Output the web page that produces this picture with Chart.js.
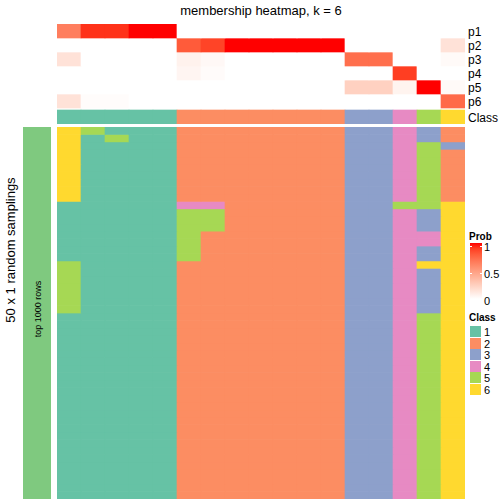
<!DOCTYPE html>
<html>
<head>
<meta charset="utf-8">
<script src="https://cdn.jsdelivr.net/npm/chart.js@4.4.1/dist/chart.umd.min.js"></script>
<style>
body { margin: 0; background: #fff; }
#page { position: relative; width: 504px; height: 504px; overflow: hidden; font-family: "Liberation Sans", Arial, sans-serif; color: #000; }
.abs { position: absolute; }
#title { left: 57px; top: 4px; width: 408px; text-align: center; font-size: 13px; line-height: 13px; }
.rowLabel { left: 468px; font-size: 12px; line-height: 14px; height: 14px; }
#sideTitle { left: 10px; top: 250px; font-size: 13px; white-space: nowrap; transform: translate(-50%, -50%) rotate(-90deg); }
#annoBar { left: 23px; top: 127px; width: 28px; height: 372px; background: #7fc97f; }
#annoText { left: 38px; top: 309px; font-size: 9px; white-space: nowrap; transform: translate(-50%, -50%) rotate(-90deg); }
.legTitle { left: 469px; font-size: 10px; font-weight: bold; line-height: 12px; }
.legLabel { left: 484px; font-size: 11px; line-height: 12px; }
#probBar { left: 470px; top: 243px; width: 12px; height: 56px; }
.tick { background: #fff; height: 1px; width: 2px; }
.swatch { left: 470px; width: 11px; height: 11px; }
</style>
</head>
<body>
<div id="page">
  <div class="abs" id="title">membership heatmap, k = 6</div>
  <canvas id="probChart" class="abs" width="408" height="100" style="left:57px;top:24px"></canvas>
  <canvas id="samplingChart" class="abs" width="408" height="372" style="left:57px;top:127px"></canvas>
  <div class="abs" id="sideTitle">50 x 1 random samplings</div>
  <div class="abs" id="annoBar"></div>
  <div class="abs" id="annoText">top 1000 rows</div>
  <div class="abs legTitle" style="top:231px">Prob</div>
  <div class="abs" id="probBar"></div>
  <div class="abs legTitle" style="top:312px">Class</div>
  <div id="labels"></div>
</div>
<script>
// membership probabilities, one value per sample column
const samples = ['s1','s2','s3','s4','s5','s6','s7','s8','s9','s10','s11','s12','s13','s14','s15','s16','s17'];
const probRows = ['p1','p2','p3','p4','p5','p6'];
const p1 = [0.65, 0.93, 0.93, 1, 1, 0, 0, 0, 0, 0, 0, 0, 0, 0, 0, 0, 0];
const p2 = [0, 0, 0, 0, 0, 0.8, 0.88, 1, 1, 1, 1, 1, 0, 0, 0, 0, 0.15];
const p3 = [0.15, 0, 0, 0, 0, 0.07, 0.035, 0, 0, 0, 0, 0, 0.72, 0.72, 0, 0, 0.025];
const p4 = [0, 0, 0, 0, 0, 0.05, 0.02, 0, 0, 0, 0, 0, 0, 0, 0.9, 0, 0];
const p5 = [0, 0, 0, 0, 0, 0, 0, 0, 0, 0, 0, 0, 0.24, 0.24, 0.06, 1, 0.025];
const p6 = [0.15, 0.015, 0.015, 0, 0, 0, 0, 0, 0, 0, 0, 0, 0, 0, 0, 0, 0.74];
const sampleClass = [1, 1, 1, 1, 1, 2, 2, 2, 2, 2, 2, 2, 3, 3, 4, 5, 6];

// class of each sample in each of the 50 random samplings (one string per sampling)
const samplings = [
  '65111222222233432', '61511222222233432', '61111222222233453', '61111222222233452',
  '61111222222233452', '61111222222233452', '61111222222233452', '61111222222233452',
  '61111222222233452', '61111222222233452', '11111442222233556', '11111552222233436',
  '11111552222233436', '11111552222233436', '11111522222233446', '11111522222233446',
  '11111522222233436', '11111522222233436', '51111222222233466', '51111222222233436',
  '51111222222233436', '51111222222233436', '51111222222233436', '51111222222233436',
  '51111222222233436', '11111222222233456', '11111222222233456', '11111222222233456',
  '11111222222233456', '11111222222233456', '11111222222233456', '11111222222233456',
  '11111222222233456', '11111222222233456', '11111222222233456', '11111222222233456',
  '11111222222233456', '11111222222233456', '11111222222233456', '11111222222233456',
  '11111222222233456', '11111222222233456', '11111222222233456', '11111222222233456',
  '11111222222233456', '11111222222233456', '11111222222233456', '11111222222233456',
  '11111222222233456', '11111222222233456'
];

const classNames = ['1', '2', '3', '4', '5', '6'];
const classColors = ['#66c2a5', '#fc8d62', '#8da0cb', '#e78ac3', '#a6d854', '#ffd92f'];
const probTicks = [1, 0.5, 0];

// white -> red interpolated in Lab space
function probColor(t) {
    const L = 100 - 46.76 * t, A = 80.09 * t, B = 67.2 * t;
    const fy = (L + 16) / 116, fx = fy + A / 500, fz = fy - B / 200;
    const f = v => (v ** 3 > 0.008856 ? v ** 3 : (v - 16 / 116) / 7.787);
    const X = 0.9505 * f(fx), Y = f(fy), Z = 1.089 * f(fz);
    const lin = [
        3.2406 * X - 1.5372 * Y - 0.4986 * Z,
        -0.9689 * X + 1.8758 * Y + 0.0415 * Z,
        0.0557 * X - 0.2040 * Y + 1.0570 * Z
    ];
    const rgb = lin.map(c => {
        c = Math.min(1, Math.max(0, c));
        const s = c <= 0.0031308 ? 12.92 * c : 1.055 * Math.pow(c, 1 / 2.4) - 0.055;
        return Math.round(s * 255);
    });
    return 'rgb(' + rgb.join(',') + ')';
}

const cellOptions = {
    borderWidth: 0,
    barPercentage: 1,
    categoryPercentage: 1,
    grouped: false
};

function heatOptions(maxY) {
    return {
        responsive: false,
        animation: false,
        layout: { padding: 0 },
        plugins: { legend: { display: false }, tooltip: { enabled: false } },
        scales: {
            x: { type: 'category', display: false },
            y: { type: 'linear', min: 0, max: maxY, reverse: true, display: false }
        }
    };
}

// top: probability rows plus the class row
const probData = [p1, p2, p3, p4, p5, p6];
const classGap = 2 / 14;
const probDatasets = probData.map((vals, r) => Object.assign({
    data: vals.map(() => [r, r + 1]),
    backgroundColor: vals.map(v => probColor(v))
}, cellOptions));
probDatasets.push(Object.assign({
    data: sampleClass.map(() => [6 + classGap, 7 + classGap]),
    backgroundColor: sampleClass.map(c => classColors[c - 1])
}, cellOptions));

new Chart(document.getElementById('probChart'), {
    type: 'bar',
    data: { labels: samples, datasets: probDatasets },
    options: heatOptions(7 + classGap)
});

// bottom: class per sampling
const samplingDatasets = samplings.map((row, r) => Object.assign({
    data: samples.map(() => [r, r + 1]),
    backgroundColor: row.split('').map(c => classColors[Number(c) - 1])
}, cellOptions));

new Chart(document.getElementById('samplingChart'), {
    type: 'bar',
    data: { labels: samples, datasets: samplingDatasets },
    options: heatOptions(samplings.length)
});

// text labels and legends
const labels = document.getElementById('labels');
function addDiv(cls, css, text) {
    const d = document.createElement('div');
    d.className = 'abs ' + cls;
    d.style.cssText = css;
    if (text !== undefined) d.textContent = text;
    labels.appendChild(d);
    return d;
}

probRows.concat(['Class']).forEach((name, i) => {
    addDiv('rowLabel', 'top:' + (25 + i * 14 + (i === 6 ? 2 : 0)) + 'px', name);
});

const stops = [];
for (let i = 0; i <= 10; i++) stops.push(probColor(1 - i / 10) + ' ' + (i * 10) + '%');
document.getElementById('probBar').style.background = 'linear-gradient(to bottom, ' + stops.join(', ') + ')';

probTicks.forEach(t => {
    const y = 246 + (1 - t) * 54;
    addDiv('legLabel', 'top:' + (y - 5.5) + 'px', String(t));
    if (t > 0) {
        addDiv('tick', 'left:470px;top:' + y + 'px');
        addDiv('tick', 'left:480px;top:' + y + 'px');
    }
});

classNames.forEach((name, i) => {
    const top = 326 + i * 11.6;
    addDiv('swatch', 'top:' + top + 'px;background:' + classColors[i]);
    addDiv('legLabel', 'top:' + top + 'px', name);
});
</script>
</body>
</html>
